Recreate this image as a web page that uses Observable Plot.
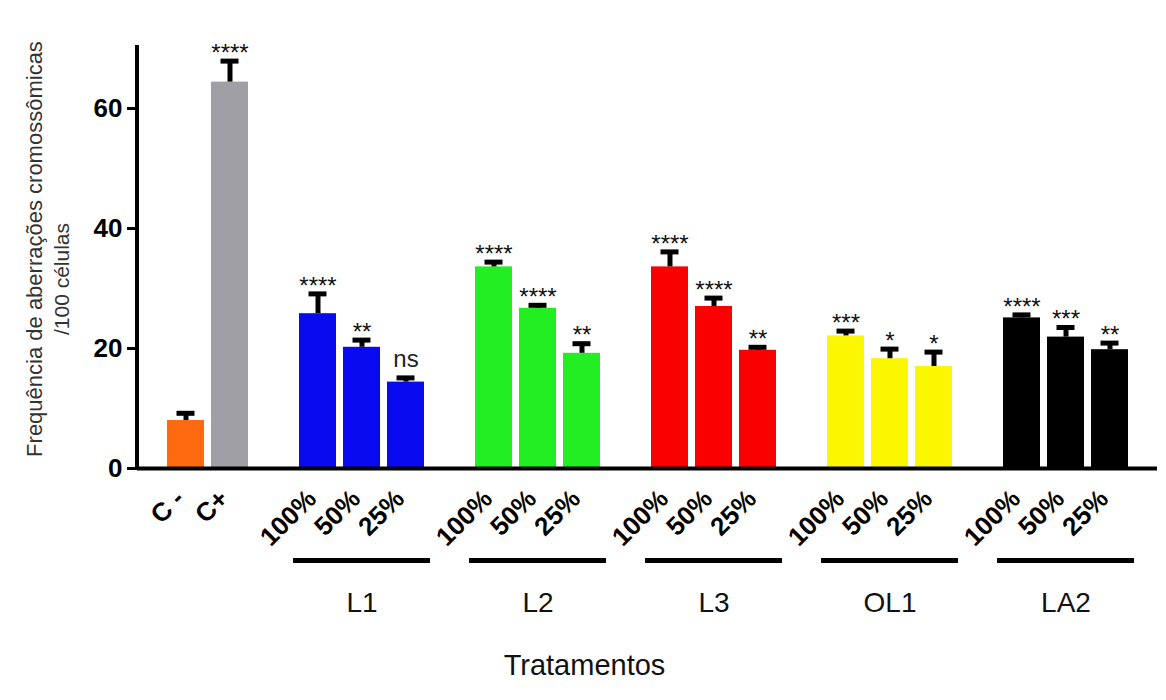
<!DOCTYPE html>
<html><head><meta charset="utf-8">
<script src="https://cdn.jsdelivr.net/npm/d3@7"></script>
<script src="https://cdn.jsdelivr.net/npm/@observablehq/plot@0.6"></script>
<style>body{margin:0;background:#fff;font-family:"Liberation Sans",Arial,sans-serif}</style>
</head><body><div id="chart"></div>
<script>
// ---- data ----
const controlLabels = ["C -", "C+"];
const controlMeans  = [8.0, 64.4];
const controlErrors = [1.2, 3.5];
const controlSig    = ["", "****"];

const groups = ["L1", "L2", "L3", "OL1", "LA2"];
const doses  = ["100%", "50%", "25%"];
const meansL1 = [25.8, 20.2, 14.4];
const meansL2 = [33.6, 26.7, 19.2];
const meansL3 = [33.6, 27.0, 19.7];
const meansOL1 = [22.1, 18.3, 17.0];
const meansLA2 = [25.1, 21.9, 19.8];
const errL1 = [3.3, 1.2, 0.7];
const errL2 = [0.8, 0.5, 1.6];
const errL3 = [2.5, 1.4, 0.5];
const errOL1 = [0.8, 1.6, 2.4];
const errLA2 = [0.5, 1.6, 1.1];
const sigL1 = ["****", "**", "ns"];
const sigL2 = ["****", "****", "**"];
const sigL3 = ["****", "****", "**"];
const sigOL1 = ["***", "*", "*"];
const sigLA2 = ["****", "***", "**"];
const yTicks = [0, 20, 40, 60];
const yMax = 70.5;

// ---- styles ----
const controlColors = ["#ff6a10", "#a19fa6"];
const groupColors = {L1: "#0a0af0", L2: "#22ee22", L3: "#fa0000", OL1: "#fbf700", LA2: "#000000"};

const groupMeans = {L1: meansL1, L2: meansL2, L3: meansL3, OL1: meansOL1, LA2: meansLA2};
const groupErr = {L1: errL1, L2: errL2, L3: errL3, OL1: errOL1, LA2: errLA2};
const groupSig = {L1: sigL1, L2: sigL2, L3: sigL3, OL1: sigOL1, LA2: sigLA2};

const rows = [];
const domain = [];
controlLabels.forEach((c, i) => {
  rows.push({key: c, label: c, value: controlMeans[i], err: controlErrors[i], sig: controlSig[i], color: controlColors[i]});
  domain.push(c);
});
const groupRows = [];
groups.forEach(g => {
  domain.push("gap " + g);
  const keys = doses.map(d => g + " " + d);
  doses.forEach((d, j) => {
    rows.push({key: keys[j], label: d, value: groupMeans[g][j], err: groupErr[g][j], sig: groupSig[g][j], color: groupColors[g]});
    domain.push(keys[j]);
  });
  groupRows.push({group: g, first: keys[0], mid: keys[1], last: keys[2]});
});
const labelOf = Object.fromEntries(rows.map(r => [r.key, r.label]));
const stars = rows.filter(r => r.sig && r.sig !== "ns");
const nsRows = rows.filter(r => r.sig === "ns");
const errTop = d => d.value + d.err;

const W = 1166, H = 700, ML = 137, MR = 9, MT = 45, MB = 232;

const chart = Plot.plot({
  width: W,
  height: H,
  marginTop: MT,
  marginLeft: ML,
  marginRight: MR,
  marginBottom: MB,
  style: {fontFamily: '"Liberation Sans", Arial, sans-serif', background: "#fff", color: "#000"},
  x: {type: "band", domain, paddingInner: 0.17, paddingOuter: 0.55},
  y: {domain: [0, yMax]},
  color: {type: "identity"},
  marks: [
    Plot.barY(rows, {x: "key", y: "value", fill: "color"}),
    Plot.ruleX(rows, {x: "key", y1: "value", y2: errTop, stroke: "#000", strokeWidth: 5}),
    Plot.tickY(rows, {x: "key", y: errTop, stroke: "#000", strokeWidth: 5, insetLeft: 9.5, insetRight: 9.5}),
    Plot.text(stars, {x: "key", y: errTop, text: "sig", dy: -8, fontSize: 24, fill: "#111"}),
    Plot.text(nsRows, {x: "key", y: errTop, text: "sig", dy: -19, fontSize: 24, fill: "#222"}),
    Plot.ruleY([0], {stroke: "#000", strokeWidth: 4}),
    // vertical y-axis line along the left edge of the frame
    Plot.rect([yMax], {y1: () => 0, y2: d => d, fill: "#000", insetLeft: -2, insetRight: (W - ML - MR) - 2}),
    Plot.axisY({ticks: yTicks, tickSize: 10, tickPadding: 5, strokeWidth: 3, fontSize: 26, fontWeight: "bold", label: null}),
    Plot.axisX({ticks: rows.map(r => r.key), tickFormat: k => labelOf[k], tickRotate: -45, tickSize: 0, tickPadding: 26, dx: -6, fontSize: 26, fontWeight: "bold", label: null}),
    Plot.ruleY(groupRows, {x1: "first", x2: "last", y: () => 0, dy: 92, stroke: "#000", strokeWidth: 5, insetLeft: -6, insetRight: -6}),
    Plot.text(groupRows, {x: "mid", y: () => 0, text: "group", dy: 135, fontSize: 28, fill: "#111"}),
    Plot.text(["Tratamentos"], {frameAnchor: "bottom", text: d => d, dx: -63, dy: 206, fontSize: 29, fill: "#111"}),
    Plot.text(["Frequência de aberrações cromossômicas"], {frameAnchor: "left", textAnchor: "middle", text: d => d, rotate: -90, dx: -103, dy: -8, fontSize: 22, fill: "#333"}),
    Plot.text(["/100 células"], {frameAnchor: "left", textAnchor: "middle", text: d => d, rotate: -90, dx: -75, dy: 22, fontSize: 21, fill: "#333"})
  ]
});
document.getElementById("chart").appendChild(chart);
</script>
</body></html>
